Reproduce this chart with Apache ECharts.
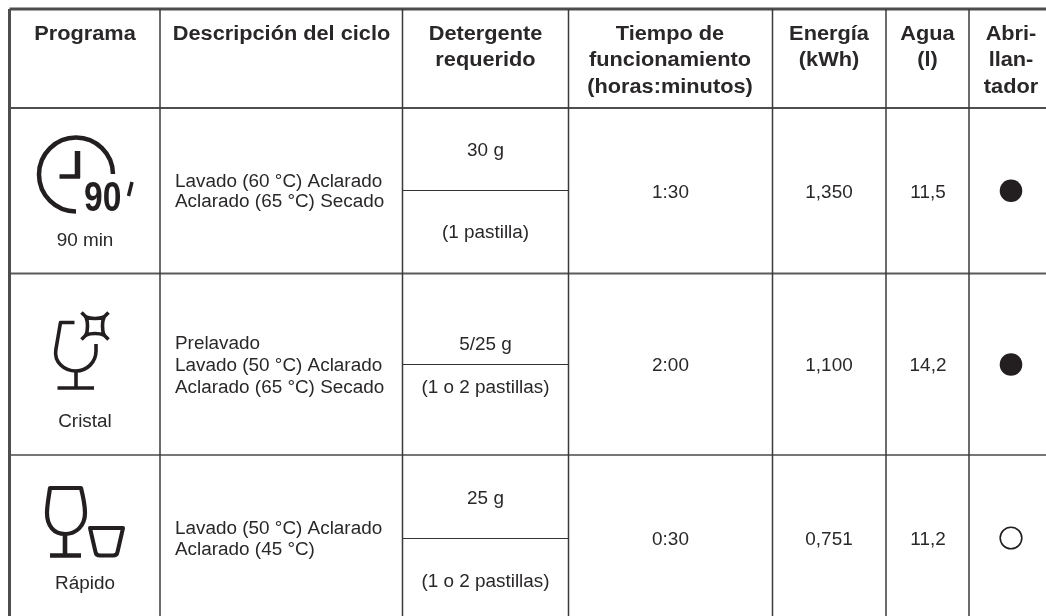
<!DOCTYPE html>
<html lang="es">
<head>
<meta charset="utf-8">
<style>
  html, body { margin: 0; height: 100%; background: #fff; }
  #container { width: 1046px; height: 616px; }
</style>
</head>
<body>
<div id="container"></div>
<script src="https://cdn.jsdelivr.net/npm/echarts@6/dist/echarts.min.js"></script>
<script>
// table content
var headers = [
  ['Programa'],
  ['Descripción del ciclo'],
  ['Detergente', 'requerido'],
  ['Tiempo de', 'funcionamiento', '(horas:minutos)'],
  ['Energía', '(kWh)'],
  ['Agua', '(l)'],
  ['Abri-', 'llan-', 'tador']
];
var programs = ['90 min', 'Cristal', 'Rápido'];
var cycles = [
  ['Lavado (60 °C) Aclarado', 'Aclarado (65 °C) Secado'],
  ['Prelavado', 'Lavado (50 °C) Aclarado', 'Aclarado (65 °C) Secado'],
  ['Lavado (50 °C) Aclarado', 'Aclarado (45 °C)']
];
var detergentDose = ['30 g', '5/25 g', '25 g'];
var detergentTabs = ['(1 pastilla)', '(1 o 2 pastillas)', '(1 o 2 pastillas)'];
var times = ['1:30', '2:00', '0:30'];
var energy = ['1,350', '1,100', '0,751'];
var water = ['11,5', '14,2', '11,2'];
var rinseAid = [true, true, false];

// layout, in page pixels (axes below run 1:1 with the page)
var colEdges = [9.5, 160, 402.5, 568.5, 772.5, 886, 969, 1046];
var rowEdges = [9, 108, 273.5, 455, 616];
var detergentSplit = [190.5, 364.5, 538.5];
var headerLineY = [34.5, 61, 87.5];
var ink = '#2a2728';

var headerTx = [85, 281.5, 485.5, 670, 829, 927.5, 1011];
var programY = [241, 422, 584.5];
var cycleY = [[182, 202.5], [344, 366.5, 388], [529, 550]];
var doseY = [151, 345, 499];
var tabY = [233, 388.5, 582];
var valueY = [193, 366.5, 540];
var dotY = [190.7, 364.5, 538];

function txt(x, y, s, o) {
  o = o || {};
  return {
    type: 'text',
    x: x, y: y,
    scaleX: o.sx || 1.05,
    style: {
      text: s,
      x: 0, y: 0,
      fill: o.fill || ink,
      font: (o.bold ? 'bold ' : '') + (o.size || 18) + 'px "Liberation Sans"',
      textAlign: o.align || 'center',
      textVerticalAlign: 'middle'
    }
  };
}

function stroke(d, w) {
  return {
    type: 'path',
    shape: { pathData: d },
    style: { stroke: '#231f20', lineWidth: w, fill: 'none', lineJoin: 'round' }
  };
}

var icons = [
  [ // clock
    ['M76 211.5 A37 37 0 1 1 113 174', 4.5],
    ['M77.5 151 V178', 5.5],
    ['M59.5 176.5 H80', 4.5],
    ['M132 182 L128.5 196', 3.5]
  ],
  [ // glass with spark
    ['M74.5 322.5 H60.5 L55.8 350 C54 362 64 371 76 371 C87 371 96 362 96 351 V344', 3.6],
    ['M76 371 V388 M57.5 388 H94', 3.6],
    ['M86 317 C91 319 99 319 104 317 C102 322 102 330 104 335 C99 333 91 333 86 335 C88 330 88 322 86 317 Z', 3.6],
    ['M81.5 312.5 L86 317 M108.5 312.5 L104 317 M108.5 339.5 L104 335 M81.5 339.5 L86 335', 3.6]
  ],
  [ // wine glass and tumbler
    ['M50 488 H81 C83 496 85 505 85 513 C85 526 76 534 65 534 C54 534 47 526 47 513 C47 505 49 496 50 488 Z', 4.2],
    ['M65 534 V555 M50 555.5 H81', 4.6],
    ['M90 528 H123 L117.5 552 Q117 555.5 113 555.5 H100 Q96 555.5 95.5 552 Z', 4]
  ]
];

function renderTable(params, api) {
  var kids = [];

  // rules
  var rules = [
    [colEdges[0], rowEdges[0], 1046, rowEdges[0], 3, '#4d4d4d'],
    [colEdges[0], rowEdges[1], 1046, rowEdges[1], 2, '#4f4f4f'],
    [colEdges[0], rowEdges[2], 1046, rowEdges[2], 2, '#5a5a5a'],
    [colEdges[0], rowEdges[3], 1046, rowEdges[3], 1.5, '#4a4a4a'],
    [colEdges[0], rowEdges[0], colEdges[0], 616, 3, '#4d4d4d']
  ];
  for (var c = 1; c < colEdges.length - 1; c++) {
    rules.push([colEdges[c], rowEdges[0], colEdges[c], 616, 1.5, '#3a3a3a']);
  }
  detergentSplit.forEach(function (y) {
    rules.push([colEdges[2], y, colEdges[3], y, 1.2, '#333']);
  });
  rules.forEach(function (r) {
    var a = api.coord([r[0], r[1]]);
    var b = api.coord([r[2], r[3]]);
    kids.push({
      type: 'line',
      shape: { x1: a[0], y1: a[1], x2: b[0], y2: b[1] },
      style: { stroke: r[5], lineWidth: r[4] }
    });
  });

  // header
  headers.forEach(function (lines, i) {
    lines.forEach(function (s, j) {
      kids.push(txt(headerTx[i], headerLineY[j], s, { bold: true, size: 19.5, sx: 1.115 }));
    });
  });

  // rows
  programs.forEach(function (name, i) {
    icons[i].forEach(function (p) { kids.push(stroke(p[0], p[1])); });
    kids.push(txt(85, programY[i], name));
    cycles[i].forEach(function (s, j) {
      kids.push(txt(175, cycleY[i][j], s, { align: 'left' }));
    });
    kids.push(txt(headerTx[2], doseY[i], detergentDose[i]));
    kids.push(txt(headerTx[2], tabY[i], detergentTabs[i]));
    kids.push(txt(670.5, valueY[i], times[i]));
    kids.push(txt(829, valueY[i], energy[i]));
    kids.push(txt(928, valueY[i], water[i]));
    kids.push({
      type: 'circle',
      shape: { cx: 1011, cy: dotY[i], r: rinseAid[i] ? 11.3 : 10.8 },
      style: rinseAid[i] ? { fill: '#231f20' } : { fill: 'none', stroke: '#231f20', lineWidth: 1.6 }
    });
  });

  // the 90 of the clock icon
  kids.push(txt(84, 199.5, '90', { bold: true, size: 42, align: 'left', sx: 0.8, fill: '#231f20' }));

  return { type: 'group', children: kids };
}

var myChart = echarts.init(document.getElementById('container'));
myChart.setOption({
  animation: false,
  backgroundColor: '#fff',
  grid: { left: 0, right: 0, top: 0, bottom: 0 },
  xAxis: { type: 'value', min: 0, max: 1046, show: false },
  yAxis: { type: 'value', min: 0, max: 616, inverse: true, show: false },
  series: [{
    type: 'custom',
    coordinateSystem: 'cartesian2d',
    silent: true,
    clip: false,
    data: [[0, 0]],
    renderItem: renderTable
  }]
});
window.addEventListener('resize', myChart.resize);
</script>
</body>
</html>
